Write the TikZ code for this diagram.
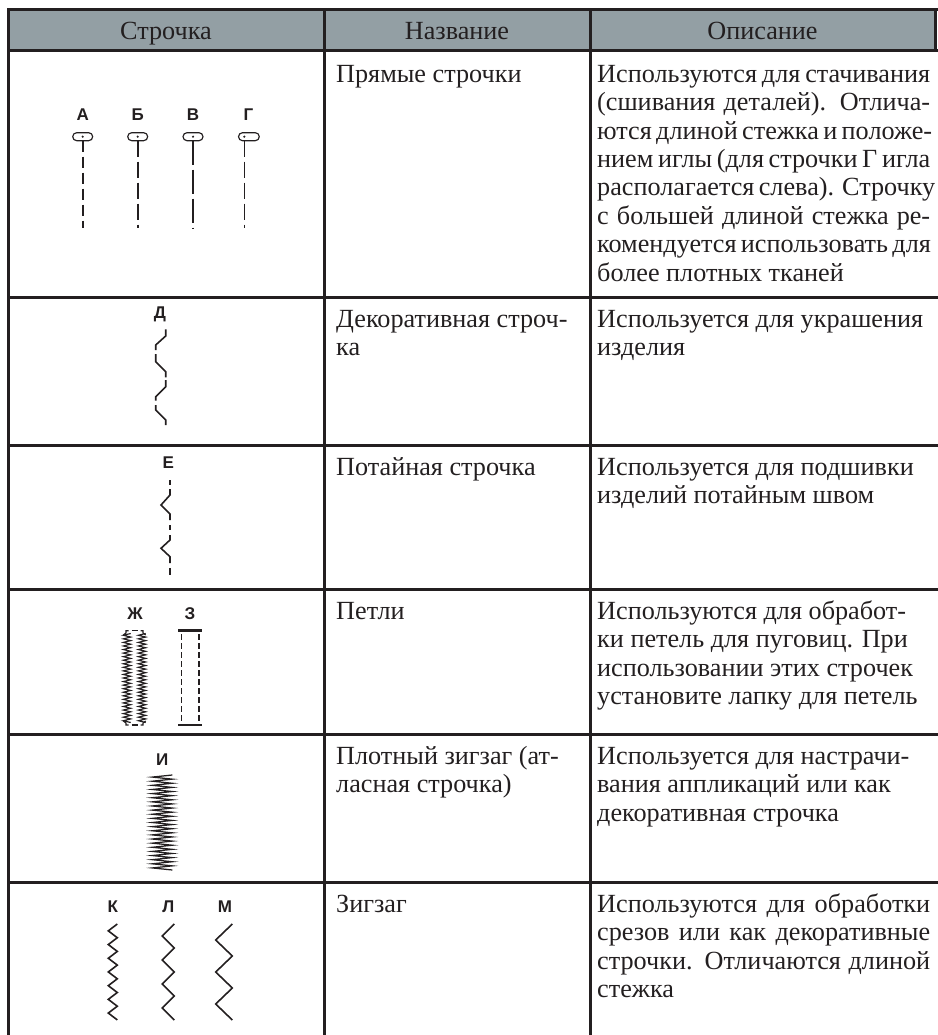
\documentclass[tikz,border=0pt]{standalone}
\usepackage{fontspec}
\setmainfont{Liberation Serif}
\newfontfamily\labfont{Liberation Sans}
\definecolor{ink}{HTML}{231F20}
\definecolor{hdr}{HTML}{939FA4}
\newcommand{\jl}[1]{\makebox[333pt][s]{#1}}
\newcommand{\fs}{\rule{0pt}{20pt}}
\begin{document}
\begin{tikzpicture}[x=1pt,y=-1pt,
  grid/.style={line width=3pt, draw=ink},
  hd/.style={font=\fontsize{26.2}{28.4}\selectfont, text=ink, inner sep=0pt, anchor=base},
  cell/.style={font=\fontsize{26.2}{28.4}\selectfont, text=ink, inner sep=0pt, anchor=north west, align=left},
  lab/.style={font=\labfont\bfseries\fontsize{17}{17}\selectfont, text=ink, inner sep=0pt, anchor=base},
  stitch/.style={line width=1.6pt, draw=ink},
  fine/.style={line width=1.15pt, draw=ink, line join=miter},
]
\useasboundingbox (0,0) rectangle (937,1035);
% header
\fill[hdr] (8,10) rectangle (936,51);
\draw[grid] (8,1036) -- (8,10) -- (938,10);
\draw[grid] (8,51) -- (938,51);
\draw[grid] (935.5,10) -- (935.5,51);
\foreach \y in {297,445,589,734,882} \draw[grid] (8,\y) -- (938,\y);
\draw[grid] (324,10) -- (324,1036);
\draw[grid] (590,10) -- (590,1036);
\node[hd] (h1) at (166,39.5) {Строчка};
\node[hd] (h2) at (457,39.5) {Название};
\node[hd] (h3) at (762.5,39.5) {Описание};

% column 2 names
\node[cell] (n1) at (336,62) {\fs Прямые строчки};
\node[cell] (n2) at (336,307) {\fs Декоративная строч-\\ка};
\node[cell] (n3) at (336,455) {\fs Потайная строчка};
\node[cell] (n4) at (336,599) {\fs Петли};
\node[cell] (n5) at (336,744) {\fs Плотный зигзаг (ат-\\ласная строчка)};
\node[cell] (n6) at (336,892) {\fs Зигзаг};

% column 3 descriptions
\node[cell] (d1) at (597,62) {\fs\jl{Используются для стачивания}\\
\jl{(сшивания деталей). Отлича-}\\
\jl{ются длиной стежка и положе-}\\
\jl{нием иглы (для строчки Г игла}\\
\jl{располагается слева). Строчку}\\
\jl{с большей длиной стежка ре-}\\
\jl{комендуется использовать для}\\
более плотных тканей};
\node[cell] (d2) at (597,307) {\fs Используется для украшения\\изделия};
\node[cell] (d3) at (597,455) {\fs Используется для подшивки\\изделий потайным швом};
\node[cell] (d4) at (597,599) {\fs Используются для обработ-\\ки петель для пуговиц. При\\использовании этих строчек\\установите лапку для петель};
\node[cell] (d5) at (597,744) {\fs Используется для настрачи-\\вания аппликаций или как\\декоративная строчка};
\node[cell] (d6) at (597,892) {\fs\jl{Используются для обработки}\\
\jl{срезов или как декоративные}\\
\jl{строчки. Отличаются длиной}\\
стежка};

% row 1: straight stitches
\foreach \x/\l/\d [count=\i] in {82.7/А/11pt,137.7/Б/16pt,193/В/24pt}{
  \node[lab] (s\i) at (\x,121) {\l};
  \draw[fine,rounded corners=4pt] (\x-10,132.7) rectangle (\x+10,140.7);
  \fill[ink] (\x,136.7) circle (1.2pt);
  \draw[stitch, dash pattern=on \d off 5pt] (\x,140.7) -- (\x,228);
}
\node[lab] (s4) at (248.5,121) {Г};
\draw[fine,rounded corners=4pt] (238.5,132.7) rectangle (259.3,140.7);
\fill[ink] (244.3,136.7) circle (1.2pt);
\draw[stitch, dash pattern=on 16pt off 5pt] (244.3,140.7) -- (244.3,228);

% row 2: decorative
\node[lab] (sD) at (160,318) {Д};
\draw[stitch] (165.7,329.3) -- (165.7,336) -- (155.7,345) -- (155.7,350);
\draw[stitch] (155.7,354) -- (155.7,361.7) -- (165.7,371.7) -- (165.7,377.3);
\draw[stitch] (165.7,380) -- (165.7,386.7) -- (155.7,396.7) -- (155.7,400.7);
\draw[stitch] (155.7,405) -- (155.7,410) -- (165.7,420) -- (165.7,425);

% row 3: blind stitch
\node[lab] (sE) at (168.3,468) {Е};
\draw[stitch] (170,480) -- (170,485);
\draw[stitch] (170,489) -- (170,495) -- (161,505) -- (170,514) -- (170,520);
\draw[stitch] (170,525) -- (170,530);
\draw[stitch] (170,535) -- (170,540) -- (161,548.3) -- (170,556.7) -- (170,563);
\draw[stitch] (170,568) -- (170,575);

% row 4: buttonholes
\node[lab] (sZh) at (135,619.3) {Ж};
\node[lab] (sZ) at (190,619.3) {З};
\draw[fine] (130.7,633.5) \foreach \i in {1,...,25}{ -- (123.3,{633.5+(\i-0.5)*3.56}) -- (130.7,{633.5+\i*3.56}) };
\draw[fine] (145.7,633.5) \foreach \i in {1,...,25}{ -- (138.3,{633.5+(\i-0.5)*3.56}) -- (145.7,{633.5+\i*3.56}) };
\draw[fine] (123.3,635) -- (126,633) -- (126,630.7) -- (128.5,630.7);
\draw[fine] (131.5,630.7) -- (137.5,630.7);
\draw[fine] (140.5,630.7) -- (143,630.7) -- (143,633) -- (145.7,635);
\draw[fine] (123.3,721) -- (126,723) -- (126,725) -- (128.5,725);
\draw[fine] (131.5,725) -- (137.5,725);
\draw[fine] (140.5,725) -- (143,725) -- (143,723) -- (145.7,721);
\draw[line width=2.6pt, draw=ink] (178.3,630.7) -- (202.3,630.7);
\draw[line width=2.6pt, draw=ink] (178.3,725) -- (202.3,725);
\draw[fine, dash pattern=on 6pt off 3pt] (181.7,634) -- (181.7,723);
\draw[fine, dash pattern=on 6pt off 3pt] (199,634) -- (199,723);

% row 5: satin
\node[lab] (sI) at (162.3,765) {И};
\draw[fine, line width=1.25pt] (172.3,775) \foreach \i in {1,...,23}{ -- (152.3,{775+(\i-0.5)*4.13}) -- (172.3,{775+\i*4.13}) };

% row 6: zigzags
\node[lab] (sK) at (112.7,912.7) {К};
\node[lab] (sL) at (168.3,912.7) {Л};
\node[lab] (sM) at (225,912.7) {М};
\draw[stitch] (117.3,924) \foreach \i in {1,...,7}{ -- (108.3,{924+(\i-0.5)*13.7}) -- (117.3,{924+\i*13.7}) };
\draw[stitch] (174.3,924) \foreach \i in {1,...,4}{ -- (162.3,{924+(\i-0.5)*24}) -- (174.3,{924+\i*24}) };
\draw[stitch] (232.3,924) \foreach \i in {1,...,3}{ -- (215.7,{924+(\i-0.5)*32}) -- (232.3,{924+\i*32}) };
\end{tikzpicture}
\end{document}
